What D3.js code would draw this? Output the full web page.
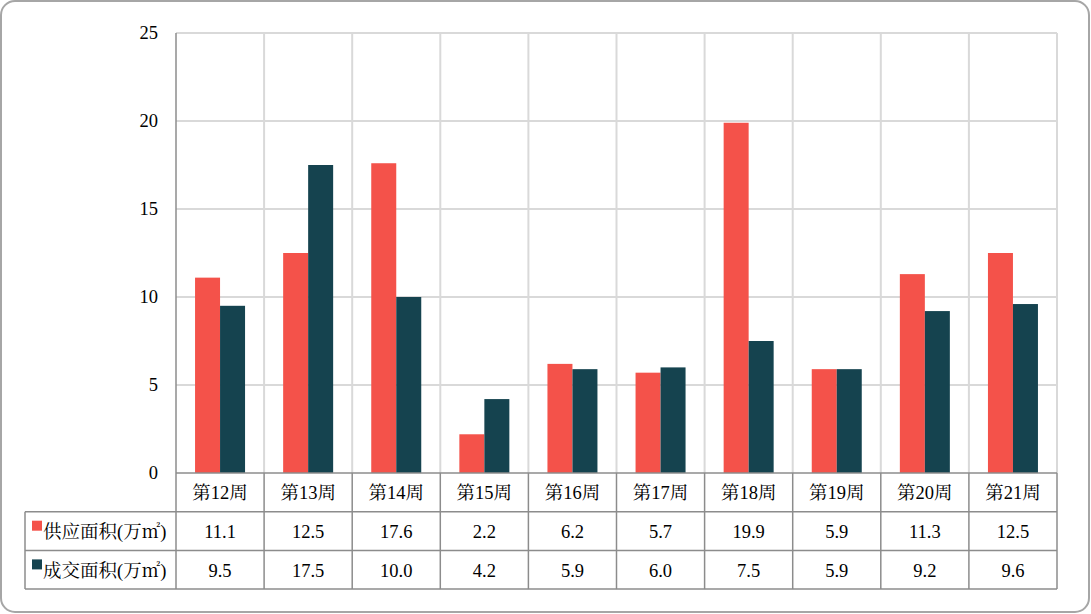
<!DOCTYPE html>
<html>
<head>
<meta charset="utf-8">
<script src="https://cdn.jsdelivr.net/npm/d3@7"></script>
<style>
  body { margin: 0; background: #fff; }
  svg text { font-family: "Times New Roman", "Liberation Serif", Times, "Noto Serif CJK SC", "Noto Sans CJK SC", serif; fill: #000; }
</style>
</head>
<body>
<script>
var weeks = ["第12周", "第13周", "第14周", "第15周", "第16周", "第17周", "第18周", "第19周", "第20周", "第21周"];
var supply = [11.1, 12.5, 17.6, 2.2, 6.2, 5.7, 19.9, 5.9, 11.3, 12.5];
var deal = [9.5, 17.5, 10.0, 4.2, 5.9, 6.0, 7.5, 5.9, 9.2, 9.6];
var seriesNames = ["供应面积(万㎡)", "成交面积(万㎡)"];
var colors = ["#F4524A", "#15434F"];
var yTicks = [0, 5, 10, 15, 20, 25];

var W = 1091, H = 614;
var pLeft = 176, pRight = 1057, pTop = 33, pBottom = 473;
var rowH = 38.7;
var tableLeft = 25;
var fs = "18.5px";

var svg = d3.select("body").append("svg")
  .attr("width", W)
  .attr("height", H);

// outer frame
svg.append("rect")
  .attr("x", 1).attr("y", 1)
  .attr("width", W - 3).attr("height", H - 3)
  .attr("rx", 14)
  .attr("fill", "#fff")
  .attr("stroke", "#a6a6a6")
  .attr("stroke-width", 2);

var x = d3.scaleBand().domain(weeks).range([pLeft, pRight]);
var y = d3.scaleLinear().domain([0, 25]).range([pBottom, pTop]);

// horizontal grid
svg.append("g").selectAll("line")
  .data(yTicks.filter(function(d) { return d > 0; }))
  .enter().append("line")
  .attr("x1", pLeft).attr("x2", pRight)
  .attr("y1", function(d) { return y(d); })
  .attr("y2", function(d) { return y(d); })
  .attr("stroke", "#d9d9d9").attr("stroke-width", 2);

// vertical grid
svg.append("g").selectAll("line")
  .data(weeks)
  .enter().append("line")
  .attr("x1", function(d) { return x(d) + x.bandwidth(); })
  .attr("x2", function(d) { return x(d) + x.bandwidth(); })
  .attr("y1", pTop).attr("y2", pBottom)
  .attr("stroke", "#d9d9d9").attr("stroke-width", 2);

// bars
var barW = 25;
var groups = [supply, deal];
groups.forEach(function(vals, s) {
  svg.append("g").selectAll("rect")
    .data(vals)
    .enter().append("rect")
    .attr("x", function(d, i) { return x(weeks[i]) + x.bandwidth() / 2 - barW + s * barW; })
    .attr("width", barW)
    .attr("y", function(d) { return y(d); })
    .attr("height", function(d) { return pBottom - y(d); })
    .attr("fill", colors[s]);
});

// y axis labels
svg.append("g").selectAll("text")
  .data(yTicks)
  .enter().append("text")
  .attr("x", 158)
  .attr("y", function(d) { return y(d) + 6; })
  .attr("text-anchor", "end")
  .style("font-size", fs)
  .text(function(d) { return d; });

// table
var t = svg.append("g");
var tb = pBottom + rowH * 3;
var lineCol = "#8c8c8c";
t.append("line").attr("x1", pLeft).attr("x2", pRight).attr("y1", pBottom).attr("y2", pBottom)
  .attr("stroke", lineCol).attr("stroke-width", 1.5);
[1, 2, 3].forEach(function(r) {
  t.append("line")
    .attr("x1", tableLeft).attr("x2", pRight)
    .attr("y1", pBottom + rowH * r).attr("y2", pBottom + rowH * r)
    .attr("stroke", lineCol).attr("stroke-width", 1.5);
});
t.append("line").attr("x1", tableLeft).attr("x2", tableLeft)
  .attr("y1", pBottom + rowH).attr("y2", tb)
  .attr("stroke", lineCol).attr("stroke-width", 1.5);
t.append("line").attr("x1", pLeft).attr("x2", pLeft)
  .attr("y1", pTop).attr("y2", tb)
  .attr("stroke", lineCol).attr("stroke-width", 1.5);
weeks.forEach(function(w) {
  var xx = x(w) + x.bandwidth();
  t.append("line").attr("x1", xx).attr("x2", xx)
    .attr("y1", pBottom).attr("y2", tb)
    .attr("stroke", lineCol).attr("stroke-width", 1.5);
});

// category labels
t.selectAll("text.cat")
  .data(weeks)
  .enter().append("text")
  .attr("class", "cat")
  .attr("x", function(d) { return x(d) + x.bandwidth() / 2; })
  .attr("y", pBottom + rowH / 2 + 7)
  .attr("text-anchor", "middle")
  .style("font-size", fs)
  .text(function(d) { return d; });

// value rows
groups.forEach(function(vals, s) {
  var cy = pBottom + rowH * (s + 1) + rowH / 2 + 7;
  t.append("g").selectAll("text")
    .data(vals)
    .enter().append("text")
    .attr("x", function(d, i) { return x(weeks[i]) + x.bandwidth() / 2; })
    .attr("y", cy)
    .attr("text-anchor", "middle")
    .style("font-size", fs)
    .text(function(d) { return d.toFixed(1); });

  t.append("rect")
    .attr("x", 32).attr("y", pBottom + rowH * (s + 1) + 9)
    .attr("width", 10).attr("height", 10)
    .attr("fill", colors[s]);
  t.append("text")
    .attr("x", 43).attr("y", cy)
    .style("font-size", fs)
    .text(seriesNames[s]);
});
</script>
</body>
</html>
